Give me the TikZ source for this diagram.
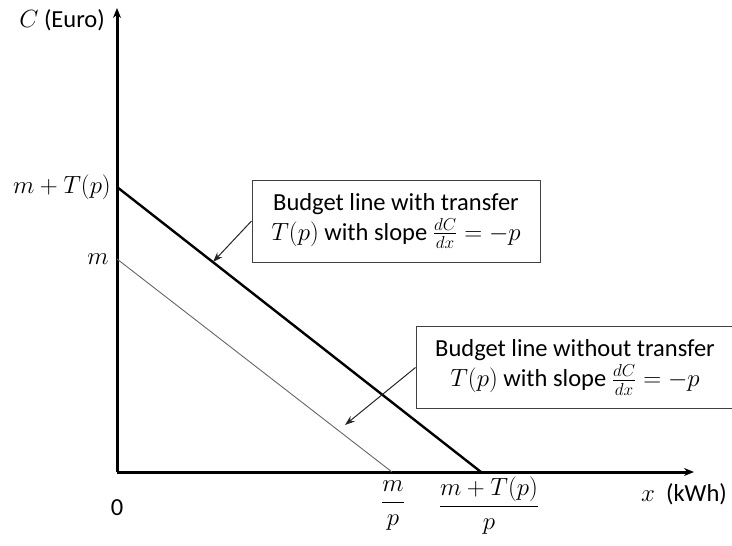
\documentclass[tikz,border=0pt]{standalone}
\usepackage{amsmath}
\usepackage{fontspec}
\setmainfont{Carlito}
\usetikzlibrary{arrows.meta, positioning}

\begin{document}
\begin{tikzpicture}[x=1pt, y=-1pt, font=\fontsize{24.5}{30}\selectfont,
  ax/.style={draw=black, line width=3pt, -{Stealth[length=10pt, width=8pt]}},
  budT/.style={draw=black, line width=2.4pt},
  bud/.style={draw=gray!80!black, line width=0.9pt},
  box/.style={draw=black!75, line width=1pt, fill=white, align=center,
              minimum width=288pt, minimum height=82pt, inner sep=2pt},
  pnt/.style={draw=black!85, line width=1pt, -{Stealth[length=10pt, width=7pt]}},
  lab/.style={inner sep=1pt}]
\useasboundingbox (0,0) rectangle (732,546);
\coordinate (O) at (117,472);
\coordinate (ytop) at (117,8);
\coordinate (xend) at (694,472);
\coordinate (A) at (117,187);
\coordinate (B) at (481,472);
\coordinate (a) at (117,259);
\coordinate (b) at (392,472);
\draw[ax] (O) -- (ytop);
\draw[ax] (O) -- (xend);
\draw[budT] (A) -- (B);
\draw[bud] (a) -- (b);
\node[lab, anchor=east] (cl) at (106,20) {$C$ (Euro)};
\node[lab, anchor=east] (mT) at (112,187) {$m+T(p)$};
\node[lab, anchor=east] (m) at (110,259) {$m$};
\node[lab] (zero) at (117,508) {0};
\node[lab] (mp) at (393,506) {$\dfrac{m}{p}$};
\node[lab] (mTp) at (489,506) {$\dfrac{m+T(p)}{p}$};
\node[lab, anchor=west] (xl) at (640,494) {$x$\ \ (kWh)};
\node[box] (withT) at (396,221)
  {Budget line with transfer\\$T(p)$ with slope $\frac{dC}{dx}=-p$};
\node[box, minimum width=318pt] (noT) at (575,367.5)
  {Budget line without transfer\\$T(p)$ with slope $\frac{dC}{dx}=-p$};
\coordinate (hitT) at (213,262);
\coordinate (hit) at (345,425);
\draw[pnt] (withT.west) -- (hitT);
\draw[pnt] (noT.west) -- (hit);
\end{tikzpicture}
\end{document}
